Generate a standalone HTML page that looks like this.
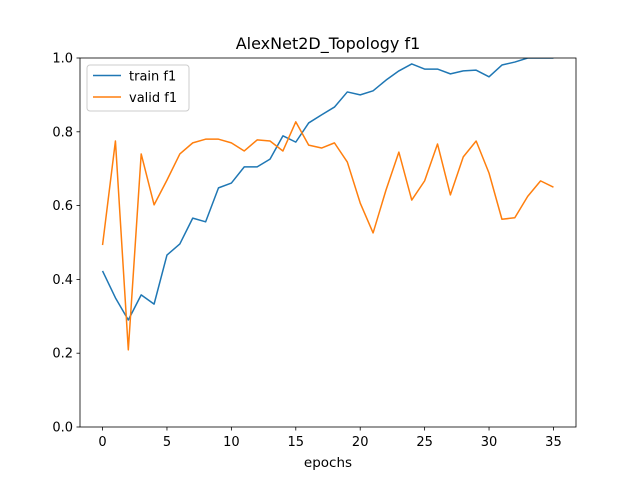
<!DOCTYPE html>
<html><head><meta charset="utf-8"><style>
body{margin:0;background:#fff;}
svg{display:block;font-family:"DejaVu Sans","Liberation Sans",sans-serif;}
</style></head><body>
<svg id="chart" width="640" height="480">
<defs><clipPath id="clip"><rect x="80" y="58" width="496" height="369"/></clipPath></defs>
<rect width="640" height="480" fill="#fff"/>
<text x="328" y="49" text-anchor="middle" font-size="16">AlexNet2D_Topology f1</text>
<g id="xticks"></g><g id="yticks"></g>
<g id="series" clip-path="url(#clip)"></g>
<rect x="80" y="58" width="496" height="369" fill="none" stroke="#000" stroke-width="0.8"/>
<text x="328" y="467" text-anchor="middle" font-size="13.5">epochs</text>
<g>
<rect x="87" y="65" width="102" height="46" rx="3" fill="#fff" fill-opacity="0.8" stroke="#ccc"/>
<line x1="93" y1="75.5" x2="121" y2="75.5" stroke="#1f77b4" stroke-width="1.5"/>
<text x="129" y="80.5" font-size="13">train f1</text>
<line x1="93" y1="97" x2="121" y2="97" stroke="#ff7f0e" stroke-width="1.5"/>
<text x="129" y="102" font-size="13">valid f1</text>
</g>
</svg>
<script>
const epochs=[...Array(36).keys()];
const trainF1=[0.423,0.35,0.29,0.358,0.333,0.466,0.496,0.566,0.556,0.648,0.661,0.705,0.705,0.726,0.789,0.772,0.824,0.846,0.867,0.908,0.9,0.911,0.94,0.965,0.984,0.97,0.97,0.957,0.965,0.967,0.949,0.981,0.989,1.0,1.0,1.0];
const validF1=[0.493,0.775,0.209,0.74,0.602,0.669,0.74,0.77,0.78,0.78,0.77,0.748,0.778,0.775,0.748,0.827,0.764,0.756,0.77,0.718,0.607,0.526,0.642,0.745,0.615,0.667,0.767,0.629,0.732,0.775,0.688,0.563,0.567,0.625,0.667,0.65];
const xTicks=[0,5,10,15,20,25,30,35];
const yTicks=[0.0,0.2,0.4,0.6,0.8,1.0];
const NS="http://www.w3.org/2000/svg";
const xs=v=>80+(v+1.75)*496/38.5;
const ys=v=>427-v*369;
function mk(tag,attrs,parent){const e=document.createElementNS(NS,tag);for(const k in attrs)e.setAttribute(k,attrs[k]);parent.appendChild(e);return e;}
const xg=document.getElementById('xticks'),yg=document.getElementById('yticks'),sg=document.getElementById('series');
xTicks.forEach(t=>{const x=xs(t);
mk('line',{x1:x,x2:x,y1:427,y2:430.5,stroke:'#000','stroke-width':0.8},xg);
const tx=mk('text',{x:x,y:446,'text-anchor':'middle','font-size':13},xg);tx.textContent=t;

});
yTicks.forEach(t=>{const y=ys(t);
mk('line',{x1:76.5,x2:80,y1:y,y2:y,stroke:'#000','stroke-width':0.8},yg);
const tx=mk('text',{x:73,y:y+4.5,'text-anchor':'end','font-size':13},yg);tx.textContent=t.toFixed(1);

});
function line(vals,color,name){const p=mk('polyline',{points:vals.map((v,i)=>xs(epochs[i])+','+ys(v)).join(' '),fill:'none',stroke:color,'stroke-width':1.5,'stroke-linejoin':'round'},sg);

}
line(trainF1,'#1f77b4','train-f1-line');
line(validF1,'#ff7f0e','valid-f1-line');
</script>
</body></html>
